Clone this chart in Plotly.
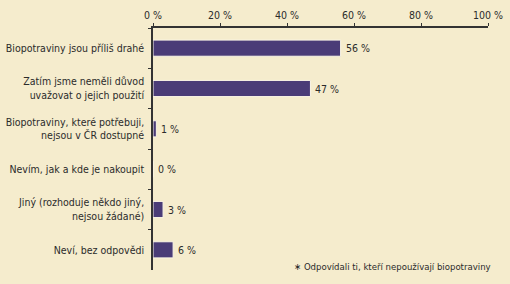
import plotly.graph_objects as go

categories = [
    "Biopotraviny jsou příliš drahé",
    "Zatím jsme neměli důvod<br>uvažovat o jejich použití",
    "Biopotraviny, které potřebuji,<br>nejsou v ČR dostupné",
    "Nevím, jak a kde je nakoupit",
    "Jiný (rozhoduje někdo jiný,<br>nejsou žádané)",
    "Neví, bez odpovědi",
]
values = [56, 47, 1, 0, 3, 6]
tick_vals = [0, 20, 40, 60, 80, 100]
tick_text = ["0 %", "20 %", "40 %", "60 %", "80 %", "100 %"]
footnote = "∗ Odpovídali ti, kteří nepoužívají biopotraviny"

FONT = "DejaVu Sans Condensed, Arial Narrow, Liberation Sans"
TXT = "#2b2b2b"
BG = "#F5ECCD"
BAR = "#4A3C77"

fig = go.Figure()
fig.add_trace(go.Bar(
    x=values, y=categories, orientation="h",
    marker=dict(color=BAR, line=dict(color="#FBF6E6", width=1)),
    width=0.4,
))

for v, c in zip(values, categories):
    fig.add_annotation(x=v, y=c, xref="x", yref="y", text=f"{v} %",
                       showarrow=False, xanchor="left", xshift=3,
                       font=dict(family=FONT, size=10.5, color=TXT))

fig.add_annotation(x=1.015, y=0.015, xref="paper", yref="paper", text=footnote,
                   showarrow=False, xanchor="right", yanchor="middle",
                   font=dict(family=FONT, size=9.5, color=TXT))

fig.update_layout(
    width=510, height=284,
    margin=dict(l=153, r=22, t=28, b=14),
    paper_bgcolor=BG, plot_bgcolor=BG,
    showlegend=False,
    font=dict(family=FONT, size=10.5, color=TXT),
    bargap=0.6,
)
fig.update_xaxes(side="top", range=[0, 100], tickvals=tick_vals, ticktext=tick_text,
                 showgrid=False, zeroline=False, showline=True, linecolor="#333",
                 linewidth=1.5, ticks="outside", ticklen=3, tickcolor="#333",
                 ticklabelstandoff=0, automargin=False,
                 tickfont=dict(family=FONT, size=10.5, color=TXT))
fig.update_yaxes(autorange="reversed", showgrid=False, zeroline=False,
                 showline=True, linecolor="#333", linewidth=1.5,
                 ticks="outside", tickson="boundaries", ticklen=3, tickcolor="#333",
                 ticklabelstandoff=5, automargin=False,
                 tickfont=dict(family=FONT, size=10.5, color=TXT))

fig.write_html("out.html")
